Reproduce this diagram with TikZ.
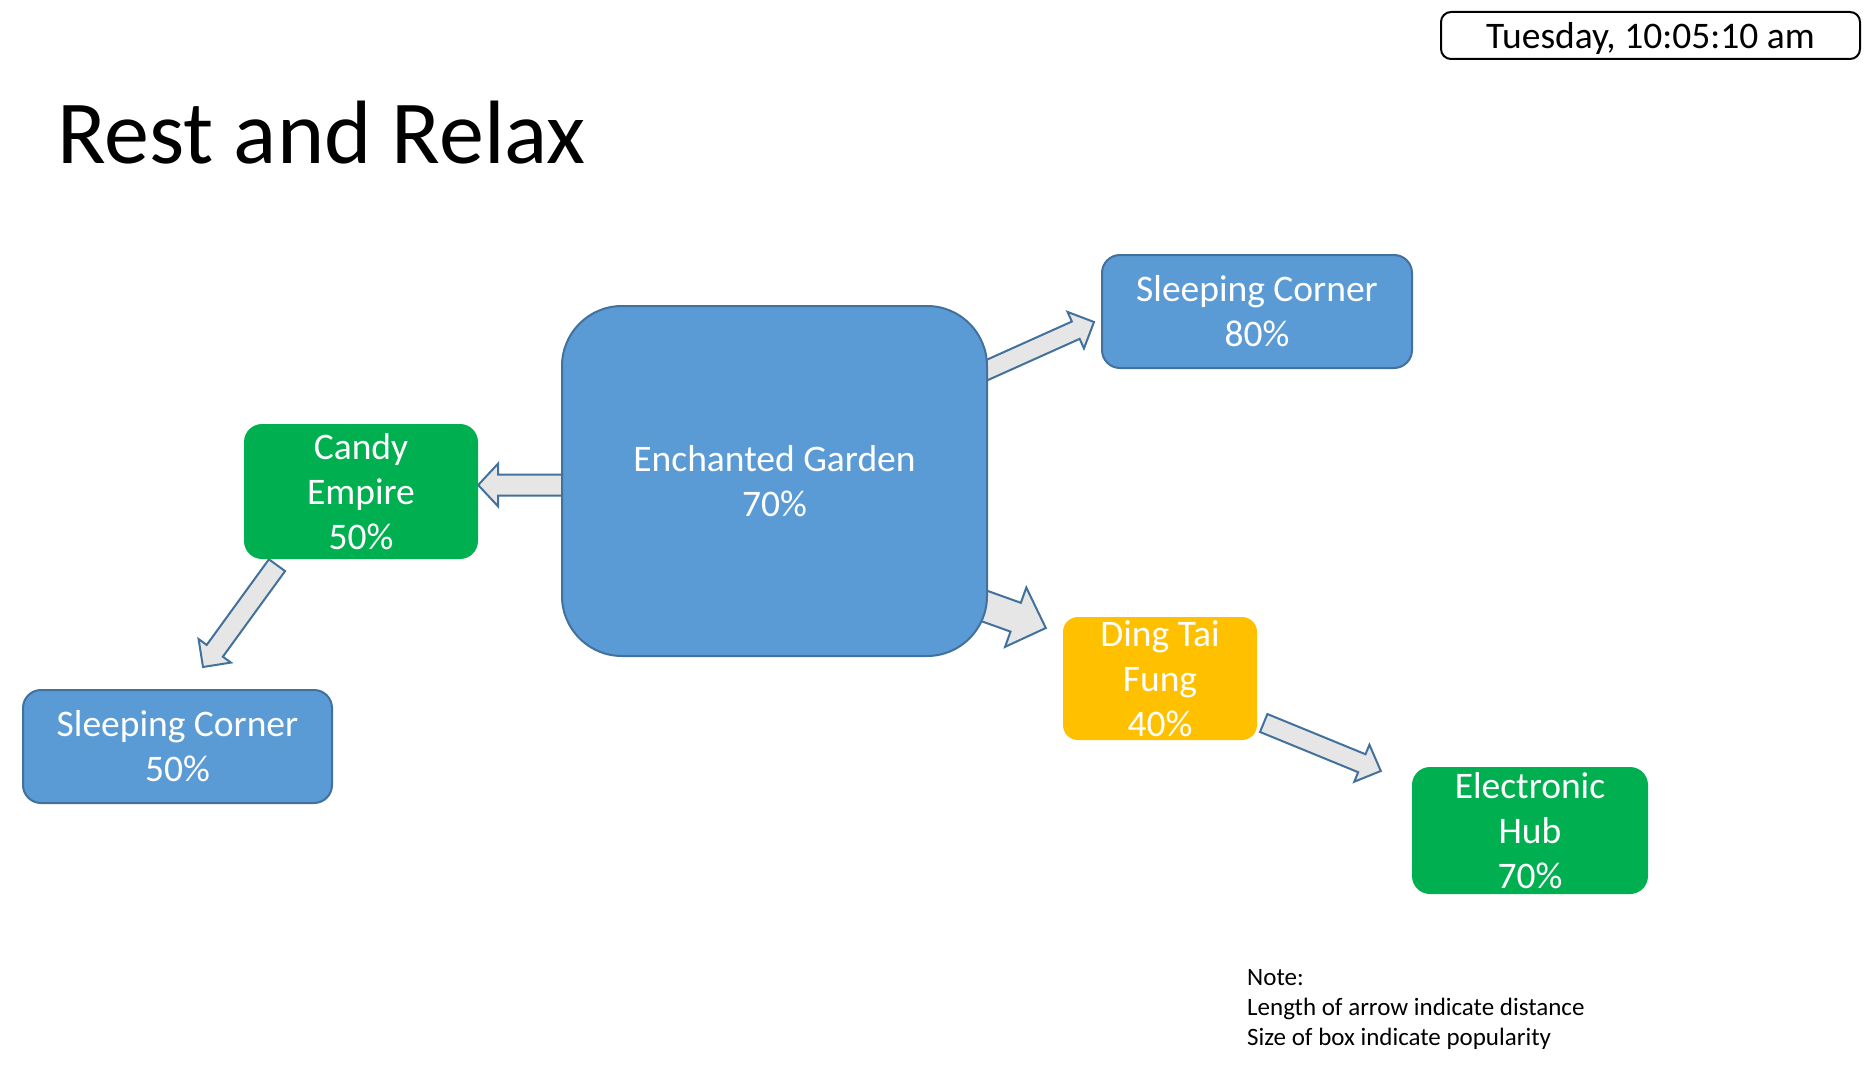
\documentclass[tikz,border=0pt]{standalone}
\usepackage{fontspec}
\setmainfont{Carlito}
\usetikzlibrary{calc,backgrounds}
\definecolor{boxblue}{HTML}{5B9BD5}
\definecolor{edgeblue}{HTML}{41719C}
\definecolor{boxgreen}{HTML}{00B050}
\definecolor{boxyellow}{HTML}{FFC000}
\definecolor{arrowfill}{HTML}{E7E6E6}
\tikzset{
  place/.style={rounded corners=18pt, inner sep=0pt, align=center, text=white,
    font=\fontsize{37.5}{45}\selectfont},
  bluebox/.style={place, fill=boxblue, draw=edgeblue, line width=2pt},
  greenbox/.style={place, fill=boxgreen},
  yellowbox/.style={place, fill=boxyellow},
  blockarr/.style={fill=arrowfill, draw=edgeblue, line width=2pt, line join=miter},
}
% #1 tail, #2 tip, #3 shaft half width, #4 head half width, #5 head length
\newcommand\blockarrow[5]{%
  \coordinate (#1-#2-n) at ($(#2)!#5!(#1)$);
  \draw[blockarr] ($(#1)!#3!90:(#2)$) -- ($(#1-#2-n)!#3!90:(#2)$)
    -- ($(#1-#2-n)!#4!90:(#2)$) -- (#2) -- ($(#1-#2-n)!#4!-90:(#2)$)
    -- ($(#1-#2-n)!#3!-90:(#2)$) -- ($(#1)!#3!-90:(#2)$) -- cycle;
}
\begin{document}
\begin{tikzpicture}[x=1pt,y=-1pt]
\useasboundingbox (0,0) rectangle (1874,1070);

\node[anchor=base west, inner sep=0pt, font=\fontsize{90}{108}\selectfont] (title) at (57,164) {Rest and Relax};
\node[draw=black, line width=2pt, rounded corners=10pt, minimum width=419pt, minimum height=47pt,
  inner sep=0pt, text depth=0pt, font=\fontsize{37.5}{45}\selectfont] (date) at (1650.5,35.5) {Tuesday, 10:05:10 am};

\node[bluebox, rounded corners=60pt, minimum width=425pt, minimum height=350pt] (eg) at (774.5,481) {Enchanted Garden\\70\%};
\node[bluebox, minimum width=310pt, minimum height=113pt] (sc80) at (1257,311.5) {Sleeping Corner\\80\%};
\node[greenbox, minimum width=234pt, minimum height=135pt] (candy) at (361,491.5) {Candy\\Empire\\50\%};
\node[bluebox, minimum width=309pt, minimum height=113pt] (sc50) at (177.5,746.5) {Sleeping Corner\\50\%};
\node[yellowbox, rounded corners=15pt, minimum width=194pt, minimum height=123pt] (dtf) at (1160,678.5) {Ding Tai\\Fung\\40\%};
\node[greenbox, minimum width=236pt, minimum height=127pt] (eh) at (1530,830.5) {Electronic\\Hub\\70\%};

\node[anchor=north west, align=left, inner sep=0pt, font=\fontsize{25}{30}\selectfont] (note) at (1247,969)
  {Note:\\Length of arrow indicate distance\\Size of box indicate popularity};

\coordinate (a1t) at ($(eg.east)+(-12,-106)$);
\coordinate (a1h) at ($(sc80.west)+(-7,10.5)$);
\coordinate (a2t) at ($(eg.west)+(13,4)$);
\coordinate (a2h) at ($(candy.east)+(0,-6.5)$);
\coordinate (a3t) at ($(eg.east)+(-12,122)$);
\coordinate (a3h) at ($(dtf.west)+(-17,-50.5)$);
\coordinate (a4t) at ($(candy.south)+(-84,6)$);
\coordinate (a4h) at ($(sc50.north)+(25.5,-22)$);
\coordinate (a5t) at ($(dtf.east)+(6.5,44.5)$);
\coordinate (a5h) at ($(eh.west)+(-31,-59.5)$);

\begin{scope}[on background layer]
  \fill[white] (0,0) rectangle (1874,1070);
  \blockarrow{a1t}{a1h}{9.5pt}{20pt}{20pt}
  \blockarrow{a2t}{a2h}{10.5pt}{21.5pt}{20pt}
  \blockarrow{a3t}{a3h}{15.3pt}{31.5pt}{32pt}
  \blockarrow{a4t}{a4h}{10pt}{20pt}{20pt}
  \blockarrow{a5t}{a5h}{9.7pt}{20pt}{20.5pt}
\end{scope}
\end{tikzpicture}
\end{document}
